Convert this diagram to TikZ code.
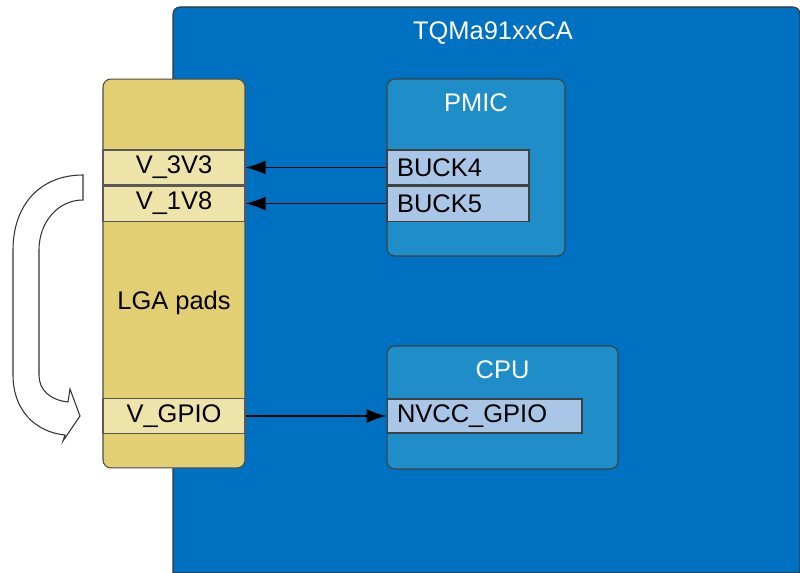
\documentclass[tikz,border=0pt]{standalone}
\usepackage{fontspec}
\setmainfont{Liberation Sans}
\usetikzlibrary{positioning,arrows.meta}

\definecolor{boardblue}{HTML}{0070C0}
\definecolor{chipblue}{HTML}{1E8DC8}
\definecolor{pinblue}{HTML}{A9C6E6}
\definecolor{padgold}{HTML}{E2CF73}
\definecolor{rowgold}{HTML}{EEE4AA}

\begin{document}
\begin{tikzpicture}[x=0.02cm, y=-0.02cm, font=\fontsize{14.5}{17}\selectfont]
	\tikzstyle{pads}=[rectangle, rounded corners=4.5pt, draw=black!70, line width=0.6pt, fill=padgold, minimum width=2.84cm, minimum height=7.78cm]
	\tikzstyle{pad}=[rectangle, draw=black!65, line width=0.6pt, fill=rowgold, minimum width=2.84cm, minimum height=0.7cm, inner sep=0pt]
	\tikzstyle{chip}=[rectangle, rounded corners=4.5pt, draw=black!75, line width=0.6pt, fill=chipblue]
	\tikzstyle{pin}=[rectangle, draw=black!75, line width=0.6pt, fill=pinblue, minimum height=0.7cm, inner xsep=0.2cm, inner ysep=0pt, align=left]
	\tikzstyle{title}=[white, inner sep=0pt]
	\tikzstyle{connect}=[-{Latex[length=4mm, width=2.8mm]}, line width=0.9pt, black]
	\useasboundingbox (0,0) rectangle (800,573);
	% module board
	\path[fill=boardblue, draw=black!80, line width=0.6pt] (173,573) [rounded corners=4pt] |- (800,7) [sharp corners] -- (800,573) -- cycle;
	\node[title] (board) at (493,33) {TQMa91xxCA};
	% LGA side
	\node[pads] (lga) at (174,273.5) {};
	\node[inner sep=0pt] (lgatext) at (174,303) {LGA pads};
	\node[pad] (v3v3) at (174,167.5) {V\_3V3};
	\node[pad] (v1v8) [below=0pt of v3v3] {V\_1V8};
	\node[pad] (vgpio) at (174,416) {V\_GPIO};
	% PMIC
	\node[chip, minimum width=3.56cm, minimum height=3.54cm] (pmic) at (476,167.5) {};
	\node[title] (pmictext) at (476,103) {PMIC};
	\node[pin, text width=2.44cm] (buck4) at (458,167.5) {BUCK4};
	\node[pin, text width=2.44cm] (buck5) [below=0pt of buck4] {BUCK5};
	% CPU
	\node[chip, minimum width=4.62cm, minimum height=2.46cm] (cpu) at (502.5,407.5) {};
	\node[title] (cputext) at (502.5,370) {CPU};
	\node[pin, text width=3.5cm, minimum height=0.68cm] (nvcc) at (484.5,416) {NVCC\_GPIO};
	\path (buck4) edge [connect] (v3v3)
	(buck5) edge [connect] (v1v8)
	(vgpio) edge [connect] (nvcc);
	% U-turn arrow
	\path[fill=white, draw=black!80, line width=0.6pt] (83,175) .. controls (40,175) and (13,205) .. (13,250) -- (13,375) .. controls (13,410) and (35,432) .. (65,435) -- (63,441) -- (80,416) -- (70,389) -- (68,402) .. controls (50,400) and (39,390) .. (39,375) -- (39,250) .. controls (39,222) and (58,200) .. (83,200) -- cycle;
\end{tikzpicture}
\end{document}
